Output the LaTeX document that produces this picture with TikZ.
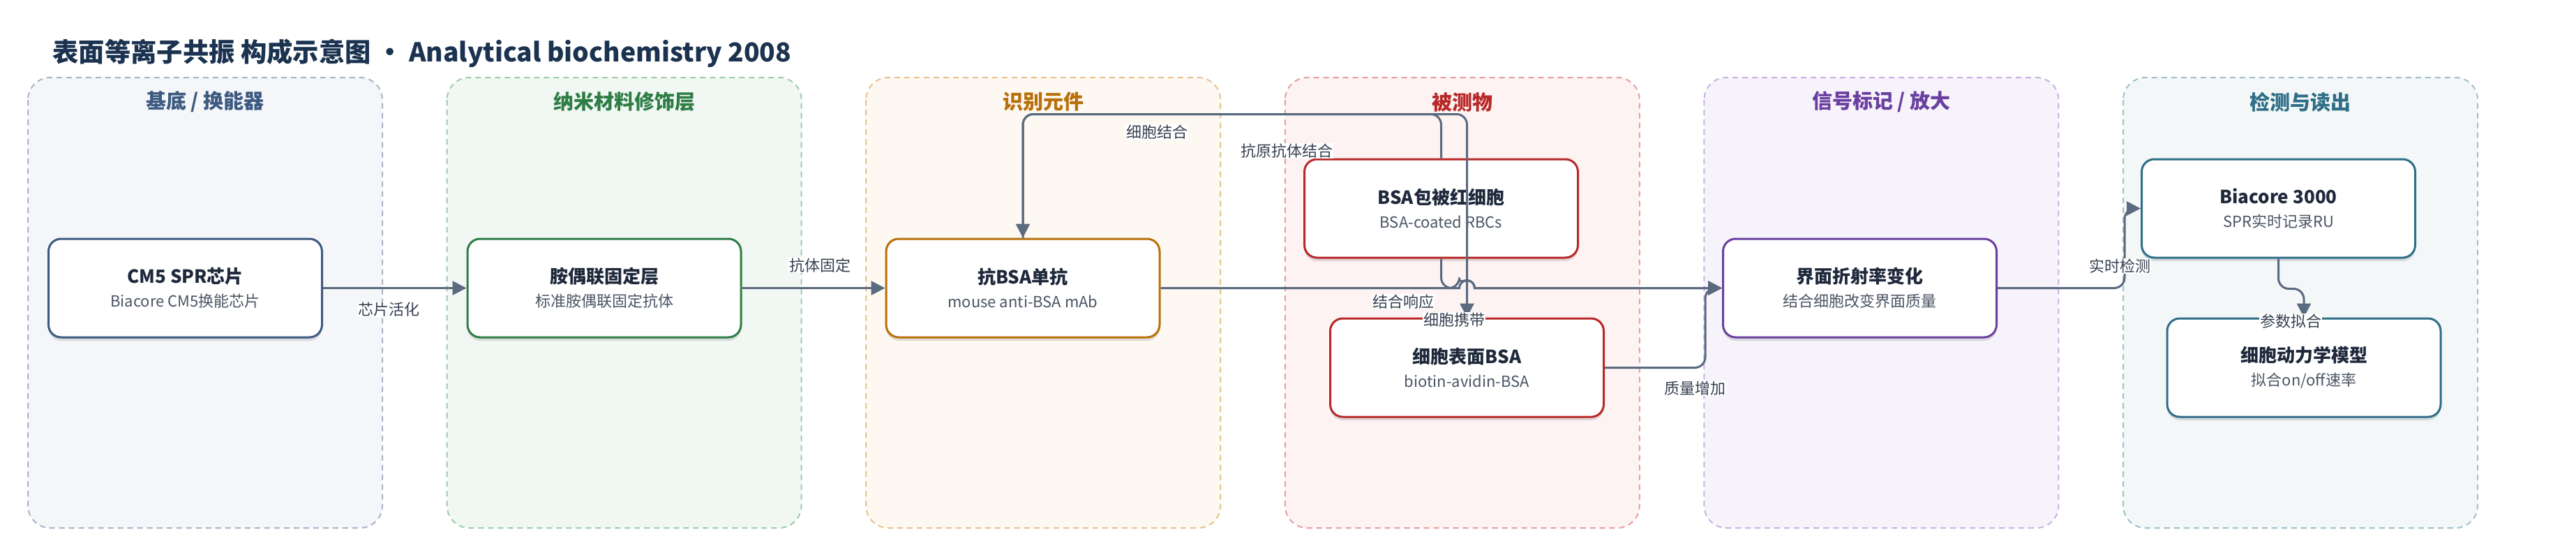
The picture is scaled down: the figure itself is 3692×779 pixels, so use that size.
\documentclass[tikz,border=0pt]{standalone}
\usepackage{fontspec}
\setmainfont{Noto Sans CJK SC}
\usetikzlibrary{arrows.meta,shadows}

\definecolor{inkC}{HTML}{1E293B}
\definecolor{titleC}{HTML}{1B3350}
\definecolor{greyC}{HTML}{4B5563}
\definecolor{linkC}{HTML}{5A6A7F}
\definecolor{lblC}{HTML}{374151}
% panel colours: T text, L dashed border, F fill
\definecolor{subT}{HTML}{3D5A80}\definecolor{subL}{HTML}{A9B5C8}\definecolor{subF}{HTML}{F4F6FA}
\definecolor{nanoT}{HTML}{2E7D46}\definecolor{nanoL}{HTML}{9FCBAC}\definecolor{nanoF}{HTML}{F1F8F3}
\definecolor{recT}{HTML}{B8700A}\definecolor{recL}{HTML}{E6C28E}\definecolor{recF}{HTML}{FDF8F1}
\definecolor{anaT}{HTML}{B82828}\definecolor{anaL}{HTML}{E5A0A0}\definecolor{anaF}{HTML}{FDF3F2}
\definecolor{sigT}{HTML}{6A3FA0}\definecolor{sigL}{HTML}{C8B2E2}\definecolor{sigF}{HTML}{F6F3FB}
\definecolor{detT}{HTML}{2F6E88}\definecolor{detL}{HTML}{A2C0CC}\definecolor{detF}{HTML}{F3F7F8}

\tikzset{
  panel/.style={dash pattern=on 8pt off 6pt, line width=2pt, rounded corners=32pt},
  paneltitle/.style={font=\fontsize{29}{34}\selectfont\bfseries},
  box/.style={line width=3pt, fill=white, rounded corners=18pt, text=inkC,
    minimum width=392pt, minimum height=141pt, align=center,
    font=\fontsize{22}{34}\selectfont,
    drop shadow={shadow xshift=0pt, shadow yshift=-5pt, opacity=0.16, fill=black!70}},
  link/.style={draw=linkC, line width=3pt, -{Triangle[length=20pt,width=20pt]}},
  lbl/.style={fill=white, text=lblC, font=\fontsize{22}{26}\selectfont, inner sep=1pt},
}
\newcommand{\boxtext}[2]{{\fontsize{26}{34}\selectfont\bfseries #1}\\{\color{greyC}#2}}

\begin{document}
\begin{tikzpicture}[x=1pt,y=-1pt]
  \useasboundingbox[fill=white] (0,0) rectangle (3692,779);

  % Title
  \node[anchor=west, text=titleC, font=\fontsize{37.3}{44}\selectfont\bfseries] (title) at (72,76)
    {表面等离子共振 构成示意图 · Analytical biochemistry 2008};

  % Lanes
  \foreach \i/\ttl/\col in {0/{基底 / 换能器}/sub, 1/{纳米材料修饰层}/nano, 2/{识别元件}/rec,
                            3/{被测物}/ana, 4/{信号标记 / 放大}/sig, 5/{检测与读出}/det} {
    \pgfmathsetmacro{\px}{40+600.6*\i}
    \draw[panel, draw=\col L, fill=\col F] (\px,111) rectangle ++(508,645);
    \node[paneltitle, text=\col T] (lane\i) at (\px+254,146) {\ttl};
  }

  % Boxes
  \node[box, draw=subT]  (cm5)   at (265.5,412.5)  {\boxtext{CM5 SPR芯片}{Biacore CM5换能芯片}};
  \node[box, draw=nanoT] (amine) at (866,412.5)    {\boxtext{胺偶联固定层}{标准胺偶联固定抗体}};
  \node[box, draw=recT]  (mab)   at (1466,412.5)   {\boxtext{抗BSA单抗}{mouse anti-BSA mAb}};
  \node[box, draw=anaT]  (rbc)   at (2065.5,298.5) {\boxtext{BSA包被红细胞}{BSA-coated RBCs}};
  \node[box, draw=anaT]  (surf)  at (2102.5,526.5) {\boxtext{细胞表面BSA}{biotin-avidin-BSA}};
  \node[box, draw=sigT]  (ri)    at (2665.5,412.5) {\boxtext{界面折射率变化}{结合细胞改变界面质量}};
  \node[box, draw=detT]  (bia)   at (3265.5,298.5) {\boxtext{Biacore 3000}{SPR实时记录RU}};
  \node[box, draw=detT]  (kin)   at (3302,526.5)   {\boxtext{细胞动力学模型}{拟合on/off速率}};

  % Connectors
  \draw[link] (cm5) -- (amine);
  \draw[link] (amine) -- (mab);
  \draw[link, rounded corners=15pt] (rbc.north) -- ++(0,-63) -| (mab.north);
  \draw[link, rounded corners=15pt] (mab.north) -- ++(0,-177) -| (surf.north);
  \draw[link] (mab.east) -- (2091.5,412.5) arc[start angle=180, end angle=0, radius=11pt] -- (ri.west);
  \draw[link] (rbc.south) [rounded corners=15pt] |- (2091.5,412.5)
    [sharp corners] arc[start angle=180, end angle=0, radius=11pt] -- (ri.west);
  \draw[link, rounded corners=15pt] (surf.east) -- ++(144,0) |- (ri.west);
  \draw[link, rounded corners=15pt] (ri.east) -- ++(182,0) |- (bia.west);
  \draw[link, rounded corners=15pt] (bia.south) -- ++(0,43) -| (kin.north);

  % Connector labels
  \node[lbl] (l1) at (557,443)  {芯片活化};
  \node[lbl] (l2) at (1175,380) {抗体固定};
  \node[lbl] (l3) at (1658,189) {细胞结合};
  \node[lbl] (l4) at (1844,216) {抗原抗体结合};
  \node[lbl] (l5) at (2011,432) {结合响应};
  \node[lbl] (l6) at (2084,458) {细胞携带};
  \node[lbl] (l7) at (2429,556) {质量增加};
  \node[lbl] (l8) at (3038,381) {实时检测};
  \node[lbl] (l9) at (3283,460) {参数拟合};
\end{tikzpicture}
\end{document}
